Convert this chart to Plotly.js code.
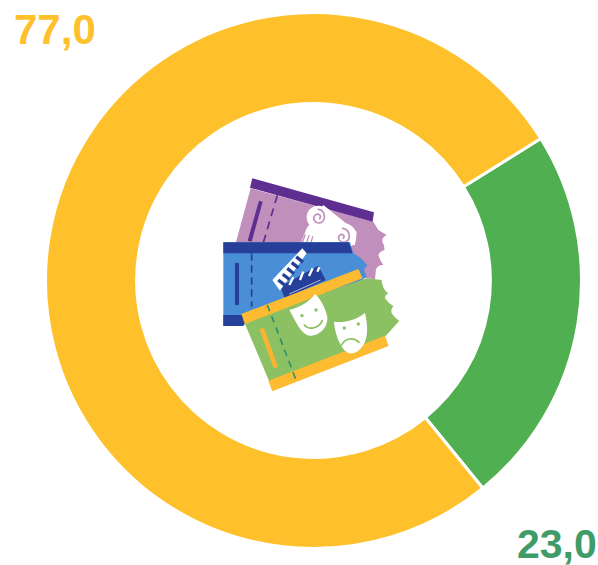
<!DOCTYPE html>
<html>
<head>
<meta charset="utf-8">
<script src="https://cdn.plot.ly/plotly-3.0.1.min.js"></script>
<style>html,body{margin:0;padding:0;background:#fff;overflow:hidden}#c{width:598px;height:565px}</style>
</head>
<body>
<div id="c"></div>
<script>
const categories = ['Green', 'Yellow'];
const values = [23.0, 77.0];
const colors = ['#50AF50', '#FFC12B'];
const labelColors = ['#3F9C68', '#FFC12B'];

const W = 598, H = 565;
const fmt = v => v.toFixed(1).replace('.', ',');

const icon = `<svg xmlns="http://www.w3.org/2000/svg" width="598" height="565" viewBox="0 0 598 565">
<defs><filter id="soft" x="-5%" y="-5%" width="110%" height="110%"><feGaussianBlur stdDeviation="1.1"/></filter></defs>
<g transform="translate(210 170) scale(0.3333)" filter="url(#soft)">
<!-- pink ticket -->
<path fill="#C18FBB" d="M122 55 L490 155 L505 180 L530 195 Q515 203 517 215 Q525 228 523 240 Q508 245 505 255 Q510 272 520 285 Q503 285 498 298 L495 328 L440 320 L300 240 L78 217 Z"/>
<path fill="#5F2D91" d="M127 25 L492 127 L488 155 L120 53 Z"/>
<path fill="#5F2D91" d="M147 92 L158 95 L125 215 L113 212 Z"/>
<path fill="none" stroke="#5F2D91" stroke-width="5" stroke-dasharray="24 17" d="M202 76 L160 218"/>
<!-- scroll -->
<path fill="#fff" d="M340 105 L440 185 L435 225 L270 225 L290 175 Z"/>
<circle cx="325" cy="142" r="35" fill="#fff"/>
<circle cx="400" cy="198" r="39" fill="#fff"/>
<g fill="none" stroke="#C18FBB" stroke-width="5" stroke-linecap="round">
<path d="M325 118 C345 120 350 150 332 158 C316 163 305 145 316 135 C326 128 336 138 329 146"/>
<path d="M398 175 C420 178 425 208 406 216 C390 220 380 204 390 195 C398 190 406 198 400 205"/>
<path d="M285 195 L277 218 M297 197 L290 218 M308 200 L303 218" stroke-width="4"/>
</g>
<!-- blue ticket -->
<path fill="#4A8ED6" d="M40 217 L420 217 L430 250 L450 262 L472 285 L462 300 L470 320 L300 440 L40 468 Z"/>
<path fill="#26409A" d="M40 217 L417 217 L428 250 L40 250 Z"/>
<path fill="#26409A" d="M40 435 L120 435 L100 468 L40 468 Z"/>
<rect x="75" y="279" width="12" height="126" fill="#26409A"/>
<path fill="none" stroke="#26409A" stroke-width="5" stroke-dasharray="22 14" d="M125 250 L125 410"/>
<!-- clapper -->
<path fill="#26409A" d="M210 350 L325 287 L347 330 L225 385 Z"/>
<path fill="#fff" d="M187 330 L263 250 L277 235 L290 250 L210 362 Z"/>
<path fill="none" stroke="#26409A" stroke-width="26" stroke-dasharray="10 12" d="M212 342 L277 258"/>
<g stroke="#fff" stroke-width="7" fill="none">
<path d="M238 345 L250 322 M270 330 L280 305 M297 318 L308 295 M322 305 L328 292"/>
<path stroke-width="2" d="M238 372 L332 330"/>
</g>
<!-- green ticket -->
<path fill="#8BC064" d="M100 450 L470 325 L515 330 Q515 340 518 345 Q522 362 535 370 Q525 375 525 385 Q535 400 550 408 Q542 418 545 430 Q555 445 568 452 L528 497 L180 640 Z"/>
<path fill="#FDBB30" d="M94 432 L445 297 L458 325 L105 462 Z"/>
<path fill="#FDBB30" d="M175 632 L525 497 L536 528 L187 664 Z"/>
<path fill="#F9B233" d="M148 478 L162 473 L204 590 L191 595 Z"/>
<path fill="none" stroke="#2F8F6C" stroke-width="5" stroke-dasharray="20 16" d="M172 405 L260 635"/>
<!-- masks -->
<path fill="#fff" d="M238 420 C265 412 295 400 315 372 C330 385 345 410 352 440 C355 475 325 498 297 497 C272 492 255 450 238 420 Z"/>
<path fill="none" stroke="#8BC064" stroke-width="5" stroke-linecap="round" d="M283 465 C295 480 325 478 337 452"/>
<circle cx="276" cy="437" r="5" fill="#8BC064"/><circle cx="318" cy="420" r="5" fill="#8BC064"/>
<path fill="#fff" d="M372 455 C400 460 440 450 465 428 C472 460 475 490 465 515 C455 540 435 552 420 550 C395 545 375 495 372 455 Z"/>
<path fill="none" stroke="#8BC064" stroke-width="5" stroke-linecap="round" d="M395 525 C405 505 430 500 447 517"/>
<circle cx="403" cy="474" r="5" fill="#8BC064"/><circle cx="445" cy="462" r="5" fill="#8BC064"/>
</g></svg>`;

const trace = {
  type: 'pie',
  labels: categories,
  values: values,
  hole: 0.66,
  sort: false,
  direction: 'clockwise',
  rotation: 58,
  textinfo: 'none',
  hoverinfo: 'label+value',
  showlegend: false,
  marker: { colors: colors, line: { color: '#ffffff', width: 3 } },
  domain: { x: [45.5 / W, 581.5 / W], y: [(H - 548.5) / H, (H - 12.5) / H] }
};

const layout = {
  width: W, height: H,
  margin: { l: 0, r: 0, t: 0, b: 0 },
  paper_bgcolor: '#fff',
  showlegend: false,
  images: [{
    source: 'data:image/svg+xml;charset=utf-8,' + encodeURIComponent(icon),
    xref: 'paper', yref: 'paper', x: 0, y: 1, sizex: 1, sizey: 1,
    xanchor: 'left', yanchor: 'top', sizing: 'stretch', layer: 'above'
  }],
  annotations: [
    { text: '<b>' + fmt(values[1]) + '</b>', x: 12 / W, y: 1 - 29 / H, xref: 'paper', yref: 'paper', xanchor: 'left', yanchor: 'middle', showarrow: false, font: { family: 'Liberation Sans', size: 42, color: labelColors[1] } },
    { text: '<b>' + fmt(values[0]) + '</b>', x: 515 / W, y: 1 - 544 / H, xref: 'paper', yref: 'paper', xanchor: 'left', yanchor: 'middle', showarrow: false, font: { family: 'Liberation Sans', size: 41, color: labelColors[0] } }
  ]
};

Plotly.newPlot('c', [trace], layout, { displayModeBar: false, staticPlot: true });
</script>
</body>
</html>
